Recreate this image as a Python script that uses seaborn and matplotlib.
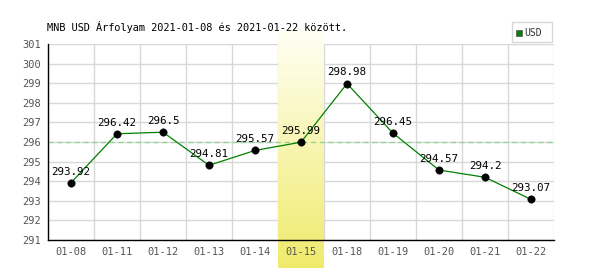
import numpy as np
import pandas as pd
import matplotlib
matplotlib.use("Agg")
import matplotlib.pyplot as plt
from matplotlib.patches import Rectangle
import seaborn as sns

dates = ["01-08", "01-11", "01-12", "01-13", "01-14", "01-15", "01-18", "01-19", "01-20", "01-21", "01-22"]
rates = [293.92, 296.42, 296.5, 294.81, 295.57, 295.99, 298.98, 296.45, 294.57, 294.2, 293.07]
highlight = "01-15"
ref_level = 296
title = "MNB USD Árfolyam 2021-01-08 és 2021-01-22 között."
series_name = "USD"

sns.set_theme(style="white")
plt.rcParams["font.family"] = ["DejaVu Sans Mono"]

df = pd.DataFrame({"date": dates, "rate": rates})

fig = plt.figure(figsize=(6, 2.7), dpi=100)
ax = fig.add_axes([48/600, 1-240/270, 506/600, 196/270])

n = len(dates)
ax.set_xlim(-0.5, n - 0.5)
ax.set_ylim(291, 301)

# grid
for y in range(291, 302):
    ax.axhline(y, color="#d8d8d8", lw=1, zorder=1)
for i in range(n + 1):
    ax.axvline(i - 0.5, color="#d8d8d8", lw=1, zorder=1)

# highlight band gradient
hi = dates.index(highlight)
ppu = 196 / 10
y_top = 301 + 14 / ppu
y_bot = 291 - 28 / ppu
grad = np.linspace(0, 1, 256).reshape(-1, 1)
top_c = np.array([1.0, 1.0, 0.96])
bot_c = np.array([0.94, 0.92, 0.42])
img = top_c[None, None, :] * (1 - grad[:, :, None]) + bot_c[None, None, :] * grad[:, :, None]
ax.imshow(img, extent=[hi - 0.5, hi + 0.5, y_bot, y_top], aspect="auto",
          origin="upper", zorder=2, clip_on=False)

ax.axhline(ref_level, color="#8fd18f", lw=0.9, ls=(0, (4, 3)), zorder=3)

sns.lineplot(data=df, x="date", y="rate", ax=ax, color="#008000", lw=0.9,
             zorder=4, sort=False)
sns.scatterplot(data=df, x="date", y="rate", ax=ax, color="black", s=28,
                edgecolor="black", zorder=5)

for i, v in enumerate(rates):
    ax.annotate(f"{v:g}", (i, v), xytext=(0, 4.5), textcoords="offset points",
                ha="center", va="bottom", fontsize=7.8, color="black", zorder=6)

ax.set_xlim(-0.5, n - 0.5)
ax.set_ylim(291, 301)
ax.set_xlabel("")
ax.set_ylabel("")
ax.set_yticks(range(291, 302))
ax.set_xticks(range(n))
ax.set_xticklabels(dates)
ax.tick_params(axis="both", length=0, labelsize=7.5, labelcolor="#555555", pad=5)
ax.xaxis.set_zorder(10)
ax.yaxis.set_zorder(10)
for s in ["top", "right"]:
    ax.spines[s].set_visible(False)
ax.spines["left"].set_color("black")
ax.spines["bottom"].set_color("black")
ax.spines["left"].set_linewidth(1)
ax.spines["bottom"].set_linewidth(1)
ax.spines["left"].set_zorder(7)
ax.spines["bottom"].set_zorder(7)

fig.text(47/600, 1-27/270, title, fontsize=7.4, color="black", va="center", ha="left")

# legend box
fig.patches.append(Rectangle((512/600, 1-42/270), 40/600, 20/270, transform=fig.transFigure,
                             facecolor="white", edgecolor="#d8d8d8", lw=1, figure=fig))
fig.patches.append(Rectangle((516/600, 1-36/270), 6/600, 6/270, transform=fig.transFigure,
                             facecolor="#008000", edgecolor="#555555", lw=0.5, figure=fig))
fig.text(524/600, 1-33/270, series_name, fontsize=7, color="#333333", va="center", ha="left")

fig.savefig("out.png", dpi=100)
